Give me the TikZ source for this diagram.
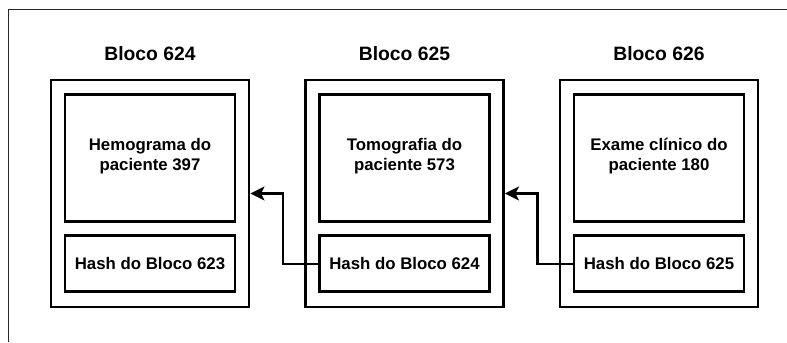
\documentclass[tikz,border=0pt]{standalone}
\usepackage{fontspec}
\setmainfont{Liberation Sans}
\usetikzlibrary{arrows.meta}
\begin{document}
\begin{tikzpicture}[x=0.75pt,y=-0.75pt,
  outerbox/.style={draw=black,line width=2.2pt,minimum width=198*0.75pt,minimum height=227*0.75pt,inner sep=0pt},
  databox/.style={draw=black,line width=2.2pt,minimum width=170*0.75pt,minimum height=126.7*0.75pt,inner sep=0pt},
  hashbox/.style={draw=black,line width=2.2pt,minimum width=170*0.75pt,minimum height=56*0.75pt,inner sep=0pt,
    font=\fontsize{12.6}{15}\selectfont\bfseries},
  datatext/.style={align=center,inner sep=0pt,font=\fontsize{12.6}{15}\selectfont\bfseries},
  title/.style={anchor=base,inner sep=0pt,font=\fontsize{14.5}{17}\selectfont\bfseries},
  conn/.style={draw=black,line width=1.7pt,-{Stealth[length=10.5pt,width=10.5pt,inset=2.6pt]}}]
\useasboundingbox (0,0) rectangle (787,342);
\draw[line width=1.1pt,black!85] (8.5,342) -- (8.5,9.3) -- (787,9.3);

\foreach \n/\x/\txt in {624/150/{Hemograma do\\paciente 397},625/404.5/{Tomografia do\\paciente 573},626/659/{Exame clínico do\\paciente 180}}{
  \node[title] (t\n) at (\x,60.7) {Bloco \n};
  \node[outerbox] (b\n) at (\x,193.5) {};
  \node[databox] (d\n) at (\x,158.3) {};
  \node[datatext] (dt\n) at (\x,156) {\txt};
}
\node[hashbox] (h624) at (150,263.7) {Hash do Bloco 623};
\node[hashbox] (h625) at (404.5,263.7) {Hash do Bloco 624};
\node[hashbox] (h626) at (659,263.7) {Hash do Bloco 625};

\draw[conn] (h625.west) -- ++(-35,0) |- (b624.east);
\draw[conn] (h626.west) -- ++(-35,0) |- (b625.east);
\end{tikzpicture}
\end{document}
